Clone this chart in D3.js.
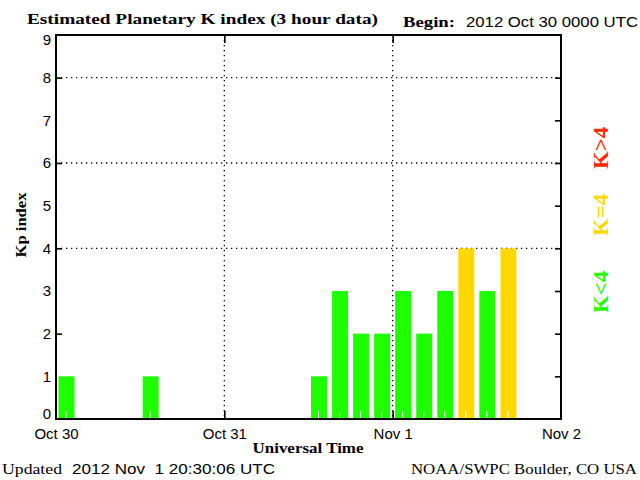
<!DOCTYPE html>
<html><head><meta charset="utf-8">
<script src="https://cdn.jsdelivr.net/npm/d3@7"></script>
<style>
html,body{margin:0;padding:0;background:#fff;}
svg{display:block;}
.serif{font-family:"Liberation Serif","DejaVu Serif",serif;font-weight:bold;}
.sans{font-family:"Liberation Sans","DejaVu Sans",sans-serif;}
</style></head>
<body>
<svg id="c" width="640" height="480"></svg>
<script>
// ---- data ----
const slotTimes = [
  "2012-10-30T00:00Z","2012-10-30T03:00Z","2012-10-30T06:00Z","2012-10-30T09:00Z",
  "2012-10-30T12:00Z","2012-10-30T15:00Z","2012-10-30T18:00Z","2012-10-30T21:00Z",
  "2012-10-31T00:00Z","2012-10-31T03:00Z","2012-10-31T06:00Z","2012-10-31T09:00Z",
  "2012-10-31T12:00Z","2012-10-31T15:00Z","2012-10-31T18:00Z","2012-10-31T21:00Z",
  "2012-11-01T00:00Z","2012-11-01T03:00Z","2012-11-01T06:00Z","2012-11-01T09:00Z",
  "2012-11-01T12:00Z","2012-11-01T15:00Z"
];
const kpValues = [1,0,0,0,1,0,0,0, 0,0,0,0,1,3,2,2, 3,2,3,4,3,4];
const dayTicks = ["2012-10-30T00:00Z","2012-10-31T00:00Z","2012-11-01T00:00Z","2012-11-02T00:00Z"];
const yTickLabels = [0,1,2,3,4,5,6,7,8,9];
const gridValues = [4,6,8];
const leftTickValues = [2,4,6,8];
const legendItems = [
  {label:"K<4", key:"low"},
  {label:"K=4", key:"mid"},
  {label:"K>4", key:"high"}
];
const titleText = "Estimated Planetary K index (3 hour data)";
const beginLabel = "Begin:";
const beginText = "2012 Oct 30 0000 UTC";
const updatedLabel = "Updated";
const updatedText = "2012 Nov  1 20:30:06 UTC";
const creditText = "NOAA/SWPC Boulder, CO USA";

const colors = {low:"#1eff00", mid:"#ffd800", high:"#ff2a00"};
const kColor = v => v < 4 ? colors.low : (v === 4 ? colors.mid : colors.high);

// ---- layout ----
const L = 56, R = 561, T = 35, B = 419;
const svg = d3.select("#c");
const x = d3.scaleUtc().domain([new Date(dayTicks[0]), new Date(dayTicks[3])]).range([L, R]);
const y = d3.scaleLinear().domain([0, 9]).range([B, T]);
const slotW = x(new Date(slotTimes[1])) - x(new Date(slotTimes[0]));
const barW = 16;

// gridlines
svg.append("g").selectAll("line").data(gridValues).join("line")
  .attr("x1", L).attr("x2", R).attr("y1", d => y(d)).attr("y2", d => y(d))
  .attr("stroke", "#000").attr("stroke-width", 1.3).attr("stroke-dasharray", "1.3,3.7");
svg.append("g").selectAll("line").data(dayTicks.slice(1, 3)).join("line")
  .attr("x1", d => x(new Date(d))).attr("x2", d => x(new Date(d)))
  .attr("y1", T).attr("y2", B)
  .attr("stroke", "#000").attr("stroke-width", 1.3).attr("stroke-dasharray", "1.3,3.7");

// bars
const data = slotTimes.map((t, i) => ({t: new Date(t), v: kpValues[i]}));
svg.append("g").selectAll("rect").data(data.filter(d => d.v > 0)).join("rect")
  .attr("x", d => x(d.t) + slotW / 2 - barW / 2)
  .attr("width", barW)
  .attr("y", d => y(d.v))
  .attr("height", d => y(0) - y(d.v))
  .attr("fill", d => kColor(d.v));
// white marks at bar centres
svg.append("g").selectAll("line").data(data.filter(d => d.v > 0)).join("line")
  .attr("x1", d => x(d.t) + slotW / 2 - 0.5).attr("x2", d => x(d.t) + slotW / 2 - 0.5)
  .attr("y1", B - 8).attr("y2", B)
  .attr("stroke", "#fff").attr("stroke-width", 1);

// axes (ticks only)
const tickStyle = g => { g.selectAll(".domain").remove(); g.selectAll("line").attr("stroke","#000").attr("stroke-width",1.6); g.selectAll("text").remove(); };
svg.append("g").attr("transform", `translate(${L},0)`)
  .call(d3.axisLeft(y).tickValues(leftTickValues).tickSize(-6)).call(tickStyle);
svg.append("g").attr("transform", `translate(${R},0)`)
  .call(d3.axisRight(y).tickValues(d3.range(1, 9)).tickSize(-6)).call(tickStyle);
svg.append("g").attr("transform", `translate(0,${B})`)
  .call(d3.axisBottom(x).tickValues(dayTicks.slice(1,3).map(d => new Date(d))).tickSize(-8)).call(tickStyle);
svg.append("g").attr("transform", `translate(0,${T})`)
  .call(d3.axisTop(x).tickValues(dayTicks.slice(1,3).map(d => new Date(d))).tickSize(-8)).call(tickStyle);

// frame
svg.append("rect").attr("x", L).attr("y", T).attr("width", R - L).attr("height", B - T)
  .attr("fill", "none").attr("stroke", "#000").attr("stroke-width", 2);

// y tick labels
const yl = svg.append("g").attr("transform", `translate(${L},0)`)
  .call(d3.axisLeft(y).tickValues(yTickLabels).tickSize(0).tickPadding(5));
yl.select(".domain").remove();
yl.selectAll("text").attr("class", "sans").style("font-size", "15px").attr("fill", "#000")
  .attr("font-family", null)
  .attr("dy", d => d === 0 ? "-0.02em" : d === 9 ? "0.6em" : "0.32em");

// x tick labels
const fmt = d3.utcFormat("%b %-d");
const xl = svg.append("g").attr("transform", `translate(0,${B})`)
  .call(d3.axisBottom(x).tickValues(dayTicks.map(d => new Date(d))).tickSize(0).tickPadding(9).tickFormat(fmt));
xl.select(".domain").remove();
xl.selectAll("text").attr("class", "sans").attr("font-family", null).style("font-size", "15px").attr("fill", "#000");

// axis titles
svg.append("text").attr("class", "serif").attr("x", 308).attr("y", 453)
  .attr("text-anchor", "middle").style("font-size", "15px").text("Universal Time")
  .attr("textLength", 111).attr("lengthAdjust", "spacingAndGlyphs");
svg.append("text").attr("class", "serif")
  .attr("transform", "translate(26,225) rotate(-90)")
  .attr("text-anchor", "middle").style("font-size", "15px").text("Kp index")
  .attr("textLength", 65).attr("lengthAdjust", "spacingAndGlyphs");

// title
svg.append("text").attr("class", "serif").attr("x", 27).attr("y", 24)
  .style("font-size", "15px").text(titleText)
  .attr("textLength", 351).attr("lengthAdjust", "spacingAndGlyphs");
svg.append("text").attr("class", "serif").attr("x", 403).attr("y", 27)
  .style("font-size", "15px").text(beginLabel)
  .attr("textLength", 52).attr("lengthAdjust", "spacingAndGlyphs");
svg.append("text").attr("class", "sans").attr("x", 466).attr("y", 27)
  .style("font-size", "14px").text(beginText)
  .attr("textLength", 172).attr("lengthAdjust", "spacingAndGlyphs");

// footer
svg.append("text").attr("class", "serif").attr("x", 2).attr("y", 474)
  .style("font-size", "15px").style("font-weight", "normal").text(updatedLabel)
  .attr("textLength", 60).attr("lengthAdjust", "spacingAndGlyphs");
svg.append("text").attr("class", "sans").attr("x", 72).attr("y", 474)
  .style("font-size", "14px").style("white-space", "pre").attr("xml:space", "preserve").text(updatedText)
  .attr("textLength", 203).attr("lengthAdjust", "spacingAndGlyphs");
svg.append("text").attr("class", "serif").attr("x", 411).attr("y", 474)
  .style("font-size", "15px").style("font-weight", "normal").text(creditText)
  .attr("textLength", 226).attr("lengthAdjust", "spacingAndGlyphs");

// legend (rotated)
const legendPos = {low: 292, mid: 215, high: 148};
svg.append("g").selectAll("text").data(legendItems).join("text")
  .attr("class", "serif")
  .attr("transform", d => `translate(608,${legendPos[d.key]}) rotate(-90)`)
  .attr("text-anchor", "middle").style("font-size", "21px").style("font-weight", "bold")
  .attr("fill", d => colors[d.key]).text(d => d.label)
  .attr("textLength", 42).attr("lengthAdjust", "spacingAndGlyphs");
</script>
</body></html>
